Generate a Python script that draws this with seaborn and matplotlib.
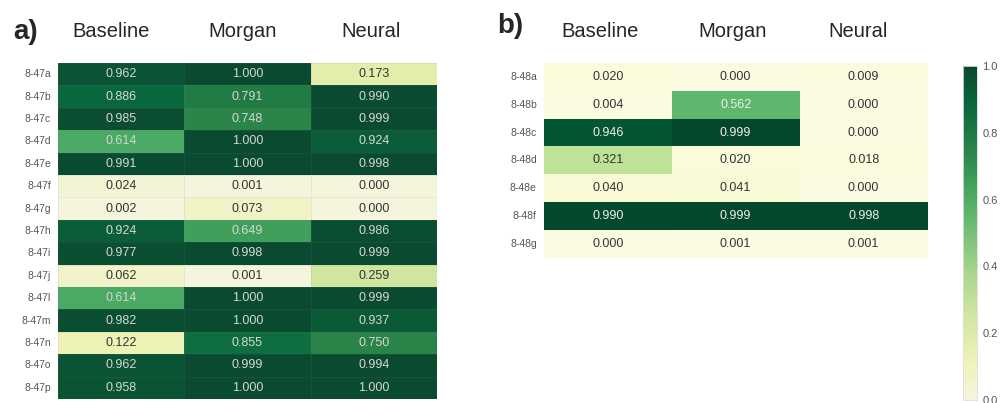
import numpy as np
import pandas as pd
import matplotlib
matplotlib.use("Agg")
import matplotlib.pyplot as plt
import matplotlib.transforms as mtransforms
from matplotlib.colors import ListedColormap, Normalize
from matplotlib.cm import ScalarMappable
import seaborn as sns

# Data
methods = ["Baseline", "Morgan", "Neural"]

rows_a = ["8-47a", "8-47b", "8-47c", "8-47d", "8-47e", "8-47f", "8-47g", "8-47h",
          "8-47i", "8-47j", "8-47l", "8-47m", "8-47n", "8-47o", "8-47p"]
baseline_a = [0.962, 0.886, 0.985, 0.614, 0.991, 0.024, 0.002, 0.924,
              0.977, 0.062, 0.614, 0.982, 0.122, 0.962, 0.958]
morgan_a = [1.000, 0.791, 0.748, 1.000, 1.000, 0.001, 0.073, 0.649,
            0.998, 0.001, 1.000, 1.000, 0.855, 0.999, 1.000]
neural_a = [0.173, 0.990, 0.999, 0.924, 0.998, 0.000, 0.000, 0.986,
            0.999, 0.259, 0.999, 0.937, 0.750, 0.994, 1.000]

rows_b = ["8-48a", "8-48b", "8-48c", "8-48d", "8-48e", "8-48f", "8-48g"]
baseline_b = [0.020, 0.004, 0.946, 0.321, 0.040, 0.990, 0.000]
morgan_b = [0.000, 0.562, 0.999, 0.020, 0.041, 0.999, 0.001]
neural_b = [0.009, 0.000, 0.000, 0.018, 0.000, 0.998, 0.001]

df_a = pd.DataFrame({"Baseline": baseline_a, "Morgan": morgan_a, "Neural": neural_a}, index=rows_a)
df_b = pd.DataFrame({"Baseline": baseline_b, "Morgan": morgan_b, "Neural": neural_b}, index=rows_b)

sns.set_style("white")
plt.rcParams["font.family"] = ["Liberation Sans", "DejaVu Sans"]

# slightly muted YlGn for panel a and the colorbar, plain YlGn for panel b
base = plt.get_cmap("YlGn")(np.linspace(0, 1, 256))[:, :3]
muted = ListedColormap(base * 0.92 + 0.5 * 0.08)
bright = ListedColormap(base * 0.97 + 0.5 * 0.03)

fig = plt.figure(figsize=(10.05, 4.03), dpi=100)
ax_a = fig.add_axes([0.0577, 0.0099, 0.377, 0.834])
ax_b = fig.add_axes([0.541, 0.360, 0.382, 0.484])
cax = fig.add_axes([0.958, 0.0074, 0.014, 0.829])

common = dict(vmin=0, vmax=1, annot=True, fmt=".3f", annot_kws={"fontsize": 9}, cbar=False)

sns.heatmap(df_a, ax=ax_a, cmap=muted, linewidths=0.5, linecolor=(0.5, 0.5, 0.5, 0.12), **common)
sns.heatmap(df_b, ax=ax_b, cmap=bright, linewidths=0, **common)

cb = fig.colorbar(ScalarMappable(norm=Normalize(0, 1), cmap=muted), cax=cax)
cb.outline.set_edgecolor("#dddddd")
cb.outline.set_linewidth(0.6)

header_shift = {ax_a: [-10, -5, -3], ax_b: [-8, -3, -6]}
for ax in (ax_a, ax_b):
    ax.xaxis.tick_top()
    ax.tick_params(axis="x", top=True, bottom=False, length=0, pad=16, labelsize=14.5)
    ax.tick_params(axis="y", left=False, length=0, pad=5, labelsize=7.5, labelcolor="#555555")
    ax.set_xticklabels(methods, rotation=0)
    plt.setp(ax.get_yticklabels(), rotation=0)
    for lab, dx in zip(ax.get_xticklabels(), header_shift[ax]):
        lab.set_transform(lab.get_transform() + mtransforms.ScaledTranslation(dx / 100, 0, fig.dpi_scale_trans))
    for t in ax.texts:
        if t.get_color() in ("w", "white", "#ffffff"):
            t.set_color("#d4d8d4" if ax is ax_a else "#f0f0f0")
        else:
            t.set_color("#333333")
    ax.set_xlabel("")
    ax.set_ylabel("")

cax.tick_params(length=0, labelsize=8, labelcolor="#555555", pad=4)
cax.set_yticks([0.0, 0.2, 0.4, 0.6, 0.8, 1.0])
cax.set_yticklabels(["0.0", "0.2", "0.4", "0.6", "0.8", "1.0"])

fig.text(0.025, 0.92, "a)", fontsize=20, fontweight="bold", ha="center", va="center")
fig.text(0.508, 0.935, "b)", fontsize=20, fontweight="bold", ha="center", va="center")

fig.savefig("out.png", dpi=100)
